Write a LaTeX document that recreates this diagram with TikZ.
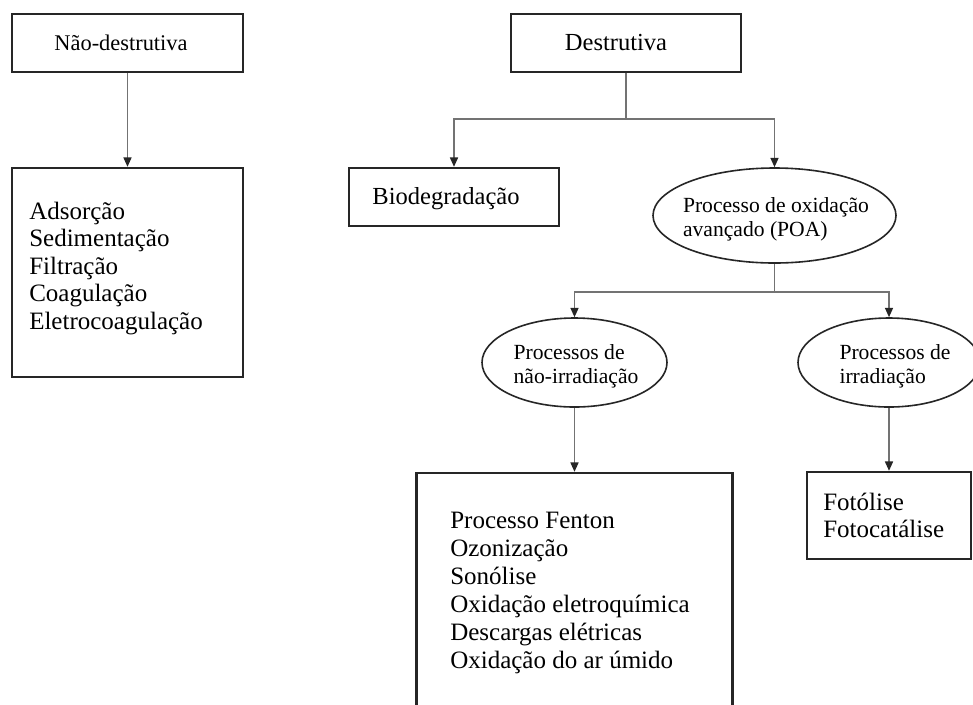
\documentclass[tikz,border=0pt]{standalone}
\usepackage{fontspec}
\setmainfont{Liberation Serif}
\usetikzlibrary{shapes.geometric,arrows.meta}
\begin{document}
\begin{tikzpicture}[x=0.75pt,y=-0.75pt,
  box/.style={draw=black!85, line width=1.8pt, rectangle, inner sep=0pt},
  ell/.style={draw=black!85, line width=1.2pt, ellipse, inner sep=0pt},
  lab/.style={font=\fontsize{18.4pt}{22pt}\selectfont, inner sep=0pt, anchor=base},
  elab/.style={font=\fontsize{16.2pt}{18pt}\selectfont, inner sep=0pt},
  listline/.style={font=\fontsize{18.75pt}{21pt}\selectfont, inner sep=0pt, anchor=base west},
  conn/.style={draw=black!55, line width=1.1pt},
  arr/.style={conn, -{Triangle[length=7pt,width=6pt,color=black!85]}}
]
\fill[white] (0,0) rectangle (973,704);
\useasboundingbox (0,0) rectangle (973,704);

% left branch
\node[box, minimum width=173.25pt, minimum height=43.5pt] (nd) at (127.5,43) {};
\node[lab, font=\fontsize{16.8pt}{20pt}\selectfont] (ndt) at (121,50) {Não-destrutiva};
\node[box, minimum width=173.25pt, minimum height=156.75pt] (ndl) at (127.5,272.5) {};
\foreach \t [count=\i from 0] in {Adsorção,Sedimentação,Filtração,Coagulação,Eletrocoagulação}
  \node[listline] (ndl\i) at (29,219.5+27.4*\i) {\t};

% right branch
\node[box, minimum width=172.5pt, minimum height=43.5pt] (d) at (626,43) {};
\node[lab] (dt) at (616,50) {Destrutiva};
\node[box, minimum width=157.5pt, minimum height=43.5pt] (bio) at (454,197) {};
\node[lab] (biot) at (446,204) {Biodegradação};
\node[ell, minimum width=182.25pt, minimum height=71.25pt] (poa) at (774.5,215.5) {};
\node[elab, align=left] (poat) at (776,219) {Processo de oxidação\\avançado (POA)};

\node[ell, minimum width=138.75pt, minimum height=66.75pt] (nir) at (574.5,362.5) {};
\node[elab, align=left] (nirt) at (576,366) {Processos de\\não-irradiação};
\node[ell, minimum width=136.5pt, minimum height=66.75pt] (ir) at (889,362.5) {};
\node[elab, align=left] (irt) at (895,366) {Processos de\\irradiação};

\node[box, minimum width=237pt, minimum height=185.25pt] (big) at (574.5,596.5) {};
\foreach \t [count=\i from 0] in {Processo Fenton,Ozonização,Sonólise,Oxidação eletroquímica,Descargas elétricas,Oxidação do ar úmido}
  \node[listline] (big\i) at (450,528+28*\i) {\t};

\node[box, minimum width=123pt, minimum height=65.25pt] (small) at (889,515.5) {};
\node[listline] (sm0) at (823,510) {Fotólise};
\node[listline] (sm1) at (823,537) {Fotocatálise};

% connectors
\draw[arr] (nd.south) -- (ndl.north);
\coordinate (j1) at (626,119);
\draw[conn] (d.south) -- (j1);
\draw[arr] (j1) -| (bio.north);
\draw[arr] (j1) -| (poa.north);
\coordinate (j2) at (774.5,292);
\draw[conn] (poa.south) -- (j2);
\draw[arr] (j2) -| (nir.north);
\draw[arr] (j2) -| (ir.north);
\draw[arr] (nir.south) -- (big.north);
\draw[arr] (ir.south) -- (small.north);
\end{tikzpicture}
\end{document}
